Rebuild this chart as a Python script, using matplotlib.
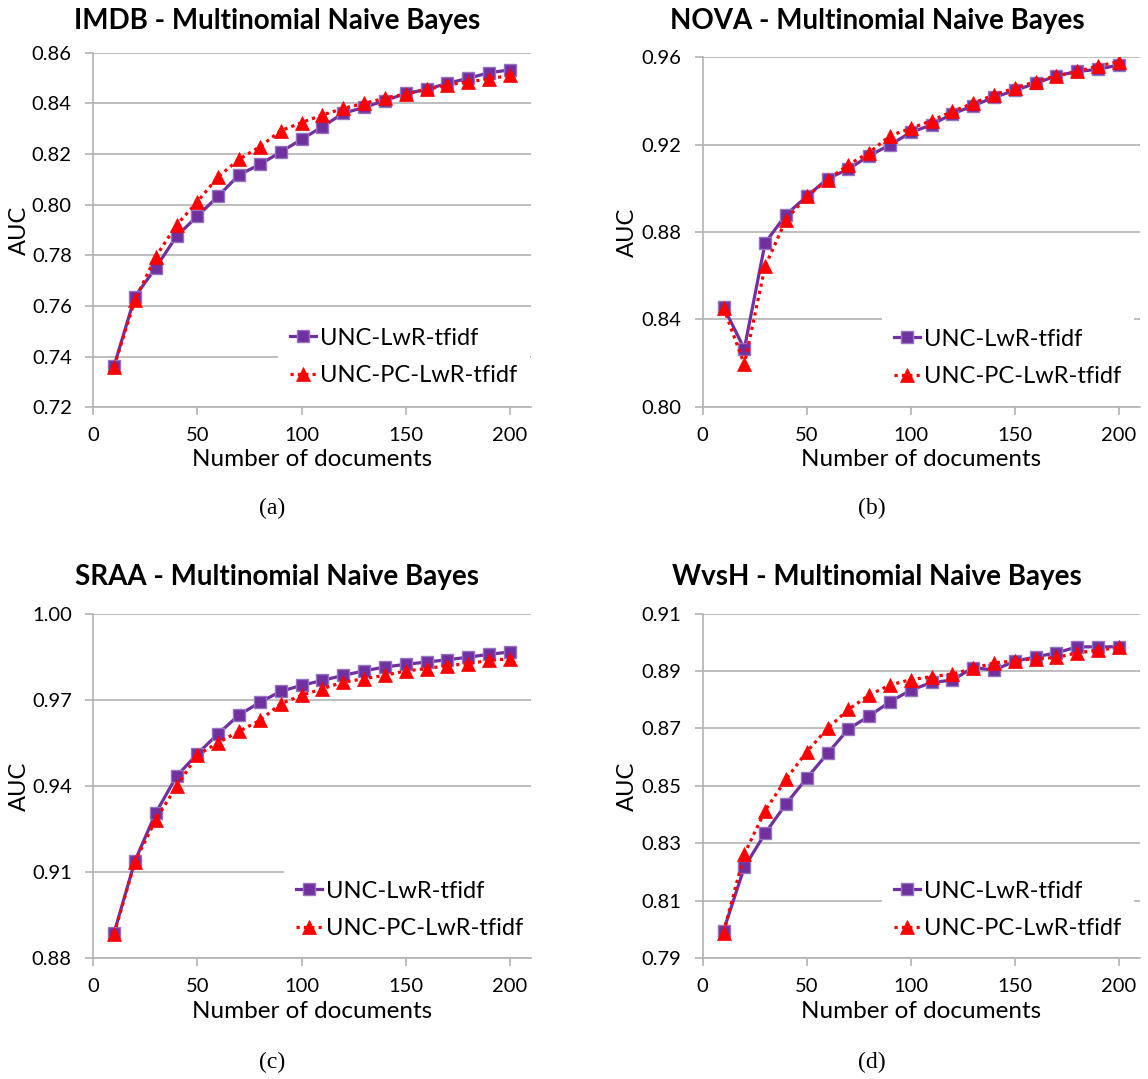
import matplotlib
matplotlib.use("Agg")
import matplotlib.pyplot as plt
from matplotlib.ticker import FormatStrFormatter

plt.rcParams['font.family'] = ['Lato', 'DejaVu Sans']

# ---------------- data ----------------
docs = [10, 20, 30, 40, 50, 60, 70, 80, 90, 100,
        110, 120, 130, 140, 150, 160, 170, 180, 190, 200]

series_names = ["UNC-LwR-tfidf", "UNC-PC-LwR-tfidf"]

imdb_lwr = [0.7364, 0.7637, 0.7751, 0.7876, 0.7955, 0.8034, 0.8118, 0.8159, 0.8208, 0.8258,
            0.8308, 0.8361, 0.8384, 0.8411, 0.8439, 0.8455, 0.8479, 0.8499, 0.8521, 0.8532]
imdb_pc = [0.7361, 0.7624, 0.7795, 0.7920, 0.8012, 0.8111, 0.8179, 0.8229, 0.8292, 0.8324,
           0.8354, 0.8380, 0.8400, 0.8420, 0.8437, 0.8455, 0.8472, 0.8486, 0.8495, 0.8512]

nova_lwr = [0.8457, 0.8265, 0.8750, 0.8879, 0.8963, 0.9044, 0.9088, 0.9149, 0.9199, 0.9256,
            0.9291, 0.9341, 0.9378, 0.9417, 0.9448, 0.9481, 0.9515, 0.9535, 0.9545, 0.9565]
nova_pc = [0.8453, 0.8194, 0.8643, 0.8856, 0.8963, 0.9039, 0.9108, 0.9164, 0.9240, 0.9275,
           0.9310, 0.9352, 0.9390, 0.9428, 0.9458, 0.9489, 0.9515, 0.9535, 0.9560, 0.9580]

sraa_lwr = [0.8889, 0.9139, 0.9306, 0.9434, 0.9512, 0.9582, 0.9647, 0.9691, 0.9729, 0.9750,
            0.9767, 0.9785, 0.9800, 0.9814, 0.9823, 0.9831, 0.9839, 0.9848, 0.9858, 0.9866]
sraa_pc = [0.8885, 0.9136, 0.9283, 0.9399, 0.9507, 0.9551, 0.9590, 0.9628, 0.9686, 0.9715,
           0.9738, 0.9761, 0.9773, 0.9785, 0.9800, 0.9808, 0.9819, 0.9825, 0.9837, 0.9842]

wvsh_lwr = [0.7996, 0.8217, 0.8335, 0.8437, 0.8527, 0.8613, 0.8698, 0.8743, 0.8793, 0.8833,
            0.8860, 0.8868, 0.8912, 0.8903, 0.8934, 0.8949, 0.8963, 0.8984, 0.8984, 0.8984]
wvsh_pc = [0.7989, 0.8263, 0.8414, 0.8523, 0.8619, 0.8700, 0.8766, 0.8816, 0.8851, 0.8870,
           0.8880, 0.8889, 0.8909, 0.8928, 0.8935, 0.8943, 0.8947, 0.8963, 0.8972, 0.8982]

titles = ["IMDB - Multinomial Naive Bayes", "NOVA - Multinomial Naive Bayes",
          "SRAA - Multinomial Naive Bayes", "WvsH - Multinomial Naive Bayes"]
captions = ["(a)", "(b)", "(c)", "(d)"]
yticks_list = [
    [0.72, 0.74, 0.76, 0.78, 0.80, 0.82, 0.84, 0.86],
    [0.80, 0.84, 0.88, 0.92, 0.96],
    [0.88, 0.91, 0.94, 0.97, 1.00],
    [0.79, 0.81, 0.83, 0.85, 0.87, 0.89, 0.91],
]
xticks = [0, 50, 100, 150, 200]
x_label = "Number of documents"
y_label = "AUC"

panels_lwr = [imdb_lwr, nova_lwr, sraa_lwr, wvsh_lwr]
panels_pc = [imdb_pc, nova_pc, sraa_pc, wvsh_pc]

# ---------------- layout (pixels) ----------------
W, H = 1148, 1079
fig = plt.figure(figsize=(W / 100, H / 100), dpi=100)

# (left, right, top, bottom) in pixels
boxes = [(93.3, 530.7, 52.7, 407.3),
         (702.7, 1139.7, 57.3, 406.7),
         (93.3, 530.7, 613.5, 958.3),
         (702.7, 1139.7, 613.5, 958.3)]
title_pos = [(277, 21), (877, 21), (277, 577), (877, 577)]
caption_pos = [(272, 508), (872, 508), (272, 1062), (872, 1062)]
legend_pos = [(278, 357), (882, 358), (284, 910), (882, 910)]
ylabel_x = [19.3, 627, 19.3, 627]

GRID = '#B3B3B3'
PURPLE = '#7030A0'
RED = '#FF0000'

for i in range(4):
    l, r, t, b = boxes[i]
    ax = fig.add_axes([l / W, 1 - b / H, (r - l) / W, (b - t) / H])
    yt = yticks_list[i]
    ax.plot(docs, panels_lwr[i], color=PURPLE, lw=2.3, marker='s', ms=8.5,
            mfc=PURPLE, mec='#9673C0', mew=1.0, label=series_names[0], zorder=3)
    ax.plot(docs, panels_pc[i], color=RED, lw=2.3, linestyle=(0, (1, 1.3)), marker='^', ms=9.5,
            mfc=RED, mec=RED, mew=0.5, label=series_names[1], zorder=4)
    ax.set_xlim(0, 210)
    ax.set_ylim(yt[0], yt[-1])
    ax.set_xticks(xticks)
    ax.set_yticks(yt)
    ax.yaxis.set_major_formatter(FormatStrFormatter('%.2f'))
    ax.grid(axis='y', color=GRID, lw=1.2, zorder=0)
    ax.set_axisbelow(True)
    for s in ['top', 'right']:
        ax.spines[s].set_visible(False)
    for s in ['left', 'bottom']:
        ax.spines[s].set_color(GRID)
        ax.spines[s].set_linewidth(1.2)
    ax.tick_params(axis='both', direction='out', length=5.5, width=1.2, color=GRID,
                   labelsize=14.5, labelcolor='black')
    ax.tick_params(axis='y', pad=10)
    ax.tick_params(axis='x', pad=9)
    ax.set_xlabel(x_label, fontsize=17.5)
    ax.xaxis.set_label_coords(0.5, -(460 - 407.3) / (b - t))
    ax.xaxis.label.set_va('center')
    ax.set_ylabel(y_label, fontsize=17)
    ax.yaxis.set_label_coords((ylabel_x[i] - l) / (r - l), 0.5)
    ax.yaxis.label.set_va('center')

    lx, ly = legend_pos[i]
    leg = ax.legend(loc='center left', bbox_to_anchor=(lx / W, 1 - ly / H),
                    bbox_transform=fig.transFigure, borderaxespad=0, borderpad=0.5,
                    handlelength=1.1, handletextpad=0.2, labelspacing=0.7,
                    fontsize=17, frameon=True, fancybox=False)
    leg.get_frame().set_facecolor('white')
    leg.get_frame().set_edgecolor('none')
    leg.get_frame().set_alpha(1)
    leg.set_zorder(5)

    tx, ty = title_pos[i]
    fig.text(tx / W, 1 - ty / H, titles[i], ha='center', va='center',
             fontsize=20, fontweight='bold')
    cx, cy = caption_pos[i]
    fig.text(cx / W, 1 - cy / H, captions[i], ha='center', va='center',
             fontsize=17, family=['Liberation Serif', 'DejaVu Serif'])

fig.savefig('out.png', dpi=100, facecolor='white')
